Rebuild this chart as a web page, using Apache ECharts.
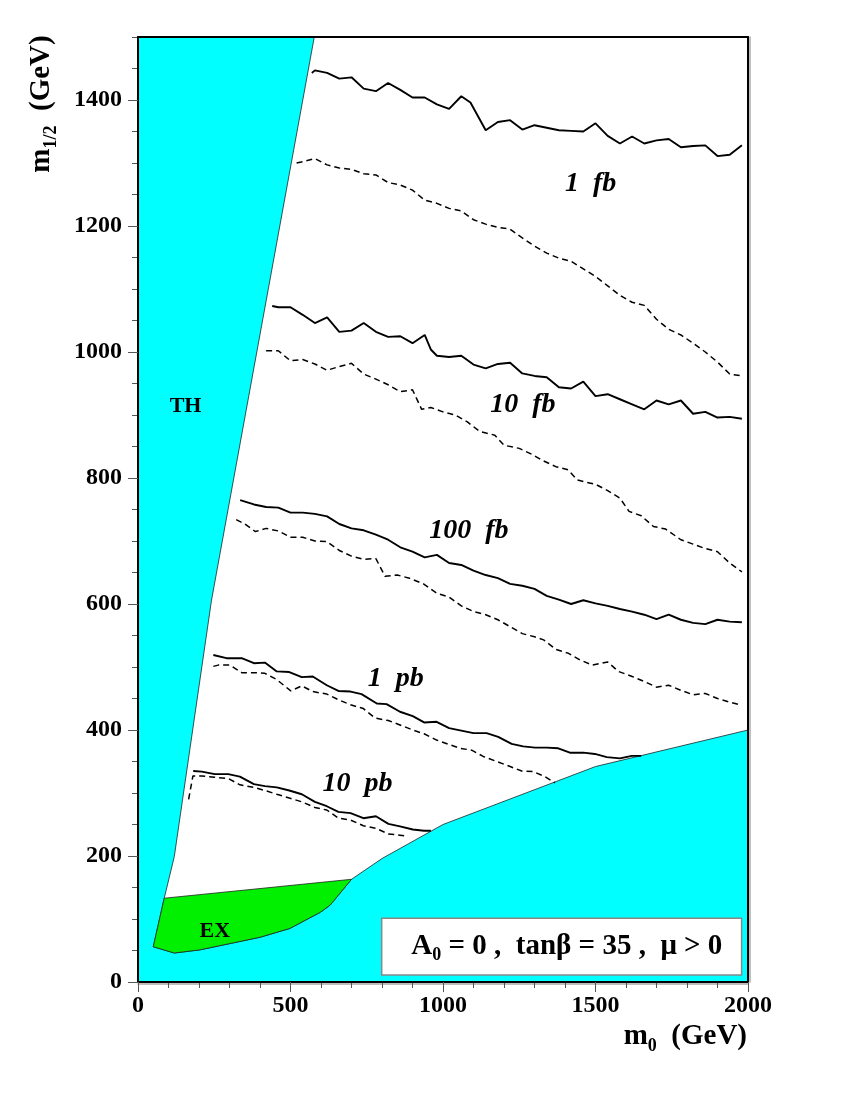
<!DOCTYPE html>
<html><head><meta charset="utf-8">
<script src="https://cdn.jsdelivr.net/npm/echarts@6/dist/echarts.min.js"></script>
<style>html,body{margin:0;padding:0;background:#fff}#c{width:850px;height:1100px}</style>
</head><body><div id="c"></div>
<script>
const F = "'Liberation Serif','Times New Roman',serif";
const xTickValues = [0, 500, 1000, 1500, 2000];
const yTickValues = [0, 200, 400, 600, 800, 1000, 1200, 1400];

// excluded regions (m0, m1/2)
const cyanRegion = [[0,0],[0,1500],[578,1500],[241,606],[119,199],[86,133],[50,56],[119,46],[203,51],[400,71],[498,85],[599,111],[630,122],[700,163],[800,196],[1000,250],[1500,342],[2000,400],[2000,0]];
const exRegion = [[50,56],[86,133],[700,163],[630,122],[599,111],[498,85],[400,71],[203,51],[119,46]];
const infoBox = [[799,11],[1979,101]];

// contours (solid / dashed)
const fb1Solid = [[570,1443],[580,1447],[620,1443],[660,1434],[700,1436],[740,1418],[780,1414],[820,1427],[860,1416],[900,1404],[940,1404],[980,1393],[1020,1386],[1060,1406],[1090,1396],[1140,1352],[1180,1365],[1220,1368],[1260,1353],[1300,1360],[1340,1356],[1380,1352],[1420,1351],[1460,1350],[1500,1363],[1540,1343],[1580,1331],[1620,1342],[1660,1331],[1700,1336],[1740,1338],[1780,1325],[1820,1327],[1860,1328],[1900,1311],[1940,1313],[1980,1328]];
const fb1Dash = [[520,1300],[540,1302],[580,1307],[620,1297],[660,1292],[700,1290],[740,1283],[780,1281],[820,1269],[860,1265],[900,1257],[940,1241],[980,1236],[1020,1228],[1060,1224],[1100,1210],[1140,1203],[1180,1198],[1220,1195],[1260,1181],[1300,1168],[1340,1157],[1380,1149],[1420,1144],[1460,1132],[1500,1120],[1540,1105],[1580,1090],[1620,1079],[1660,1074],[1700,1052],[1740,1036],[1780,1027],[1820,1014],[1860,1000],[1900,984],[1940,965],[1980,962]];
const fb10Solid = [[440,1073],[460,1071],[500,1071],[540,1059],[580,1046],[620,1055],[660,1032],[700,1034],[740,1046],[780,1032],[820,1024],[860,1025],[900,1014],[940,1027],[960,1004],[980,994],[1020,992],[1060,994],[1100,980],[1140,974],[1180,981],[1220,983],[1260,966],[1300,962],[1340,960],[1380,944],[1420,942],[1460,953],[1500,930],[1540,933],[1580,925],[1620,917],[1660,909],[1700,923],[1740,917],[1780,923],[1820,902],[1860,905],[1900,896],[1940,897],[1980,894]];
const fb10Dash = [[420,1002],[460,1002],[500,986],[540,988],[580,981],[620,971],[660,977],[700,982],[740,965],[780,957],[820,948],[860,937],[900,940],[930,909],[960,912],[1000,905],[1040,900],[1080,889],[1120,874],[1170,868],[1200,852],[1250,847],[1290,838],[1330,827],[1370,818],[1410,813],[1440,797],[1470,793],[1500,790],[1540,780],[1580,768],[1610,747],[1650,740],[1690,723],[1730,719],[1780,702],[1820,695],[1860,688],[1900,683],[1940,665],[1980,651]];
const fb100Solid = [[335,765],[380,758],[420,754],[460,753],[500,745],[540,745],[580,743],[620,739],[660,727],[700,720],[740,717],[780,710],[820,702],[860,690],[900,683],[940,674],[980,678],[1020,665],[1060,662],[1100,653],[1140,646],[1180,641],[1220,632],[1260,629],[1300,624],[1340,613],[1380,607],[1420,600],[1460,606],[1500,601],[1540,597],[1580,592],[1620,588],[1660,583],[1700,576],[1740,583],[1780,575],[1820,570],[1860,568],[1900,575],[1940,572],[1980,571]];
const fb100Dash = [[322,734],[350,727],[385,715],[420,720],[460,716],[500,706],[540,706],[580,700],[620,699],[660,685],[700,676],[740,671],[780,672],[810,644],[850,646],[890,641],[936,632],[980,617],[1020,611],[1060,597],[1100,588],[1140,583],[1180,575],[1220,564],[1260,553],[1300,548],[1330,543],[1370,528],[1410,522],[1450,511],[1490,503],[1540,508],[1575,493],[1620,485],[1660,477],[1700,468],[1740,471],[1780,463],[1820,456],[1860,458],[1900,450],[1940,444],[1975,440]];
const pb1Solid = [[247,519],[290,514],[340,514],[380,506],[416,507],[455,493],[496,492],[537,484],[573,485],[619,471],[657,462],[697,461],[733,457],[783,442],[815,441],[859,429],[901,422],[938,412],[979,413],[1020,403],[1060,399],[1100,395],[1143,395],[1181,389],[1225,378],[1263,374],[1302,372],[1340,372],[1378,371],[1416,364],[1460,364],[1498,362],[1537,357],[1580,355],[1619,359],[1650,359]];
const pb1Dash = [[247,501],[263,503],[302,503],[340,491],[380,491],[416,490],[455,480],[501,462],[537,470],[573,461],[619,457],[657,448],[697,440],[739,434],[777,419],[821,415],[859,408],[901,400],[938,394],[979,384],[1020,377],[1056,371],[1094,368],[1132,358],[1176,350],[1220,342],[1258,335],[1296,334],[1334,326],[1367,316]];
const pb10Solid = [[181,335],[209,334],[252,330],[296,330],[334,326],[380,314],[416,311],[455,309],[496,304],[537,298],[580,286],[619,279],[657,270],[697,268],[739,260],[780,263],[821,251],[859,247],[901,242],[938,240],[960,240]];
const pb10Dash = [[166,290],[180,327],[209,327],[252,325],[296,323],[334,313],[380,309],[416,304],[455,298],[496,292],[537,286],[580,277],[619,273],[657,260],[697,257],[739,248],[780,244],[821,235],[859,233],[875,232]];

const curveLabels = [['1  fb',1484,1267],['10  fb',1262,916],['100  fb',1085,716],['1  pb',845,481],['10  pb',720,314]];
const regionLabels = [['TH',156,913],['EX',252,81]];
const boxLabel = ['{b|A}{s|0}{b| = 0 ,  tanβ = 35 ,  μ > 0}', 1406, 56];

const chart = echarts.init(document.getElementById('c'), null, {renderer:'canvas'});

function polygonSeries(verts, fill, z) {
  return {
    type:'custom', coordinateSystem:'cartesian2d', data:verts, z:z, silent:true,
    encode:{x:0,y:1},
    renderItem:function(params, api){
      if (params.dataIndex !== 0) return null;
      return {type:'polygon', shape:{points:verts.map(v=>api.coord(v))},
        style:{fill:fill, stroke:'#222', lineWidth:0.8}};
    }
  };
}
function curve(data, dashed) {
  return {type:'line', data:data, showSymbol:false, symbol:'none', z:4, silent:true,
    lineStyle:{color:'#000', width: dashed ? 1.5 : 1.9, type: dashed ? [6,4] : 'solid'}};
}
const axisFont = {fontFamily:F, fontWeight:'bold', fontSize:24, color:'#000'};
const frame = {show:true, onZero:false, lineStyle:{color:'#000', width:2}};
const zrRich = {
  m:{fontFamily:F, fontWeight:'bold', fontSize:29, lineHeight:36, verticalAlign:'middle', fill:'#000'},
  s:{fontFamily:F, fontWeight:'bold', fontSize:18, lineHeight:36, verticalAlign:'bottom', fill:'#000'}
};

const option = {
  animation:false,
  backgroundColor:'#fff',
  grid:{left:138, top:37, width:610, height:945},
  xAxis:[
    {type:'value', min:0, max:2000, interval:500, position:'bottom', z:10,
     axisLine:frame, axisTick:{length:10, lineStyle:{color:'#555'}},
     axisLabel:Object.assign({margin:12, formatter:v=>xTickValues.includes(v)?String(v):''}, axisFont),
     splitLine:{show:false}},
    {type:'value', min:0, max:2000, interval:100, position:'bottom', z:9,
     axisLine:{show:false,onZero:false}, axisTick:{length:6, lineStyle:{color:'#555'}},
     axisLabel:{show:false}, splitLine:{show:false}},
    {type:'value', min:0, max:2000, position:'top', z:10,
     axisLine:frame, axisTick:{show:false}, axisLabel:{show:false}, splitLine:{show:false}},
    {type:'value', min:0, max:2000, position:'bottom', offset:2, z:9,
     axisLine:{show:true,onZero:false,lineStyle:{color:'#aaa',width:1.5}}, axisTick:{show:false}, axisLabel:{show:false}, splitLine:{show:false}}
  ],
  yAxis:[
    {type:'value', min:0, max:1500, interval:200, position:'left', z:10,
     axisLine:frame, axisTick:{length:10, lineStyle:{color:'#555'}},
     axisLabel:Object.assign({margin:16, showMaxLabel:false, formatter:v=>yTickValues.includes(v)?String(v):''}, axisFont),
     splitLine:{show:false}},
    {type:'value', min:0, max:1500, interval:50, position:'left', z:9,
     axisLine:{show:false,onZero:false}, axisTick:{length:6, lineStyle:{color:'#555'}},
     axisLabel:{show:false}, splitLine:{show:false}},
    {type:'value', min:0, max:1500, position:'right', z:10,
     axisLine:frame, axisTick:{show:false}, axisLabel:{show:false}, splitLine:{show:false}},
    {type:'value', min:0, max:1500, position:'right', offset:2, z:9,
     axisLine:{show:true,onZero:false,lineStyle:{color:'#aaa',width:1.5}}, axisTick:{show:false}, axisLabel:{show:false}, splitLine:{show:false}}
  ],
  graphic:[
    {type:'text', x:747, y:1037, z:20, style:{
      text:'{m|m}{s|0}{m|  (GeV)}', align:'right', verticalAlign:'middle', rich:zrRich}},
    {type:'text', x:42, y:104, rotation:Math.PI/2, z:20, style:{
      text:'{m|m}{s|1/2}{m|  (GeV)}', align:'center', verticalAlign:'middle', rich:zrRich}}
  ],
  series:[
    polygonSeries(cyanRegion, '#00ffff', 1),
    polygonSeries(exRegion, '#00f000', 2),
    {type:'custom', coordinateSystem:'cartesian2d', data:infoBox, z:3, silent:true, encode:{x:0,y:1},
     renderItem:function(params, api){
       if (params.dataIndex !== 0) return null;
       const a = api.coord(infoBox[0]), b = api.coord(infoBox[1]);
       return {type:'rect', shape:{x:a[0], y:b[1], width:b[0]-a[0], height:a[1]-b[1]},
         style:{fill:'#fff', stroke:'#888', lineWidth:1.5}};
     }},
    curve(fb1Solid,false), curve(fb1Dash,true),
    curve(fb10Solid,false), curve(fb10Dash,true),
    curve(fb100Solid,false), curve(fb100Dash,true),
    curve(pb1Solid,false), curve(pb1Dash,true),
    curve(pb10Solid,false), curve(pb10Dash,true),
    {type:'scatter', symbolSize:1, z:6, silent:true, itemStyle:{color:'rgba(0,0,0,0)'},
     data:curveLabels.map(d=>({value:[d[1],d[2]], label:{formatter:d[0]}})),
     label:{show:true, position:'inside', fontFamily:F, fontStyle:'italic', fontWeight:'bold', fontSize:28, color:'#000', textBorderWidth:0, opacity:1}},
    {type:'scatter', symbolSize:1, z:6, silent:true, itemStyle:{color:'rgba(0,0,0,0)'},
     data:regionLabels.map(d=>({value:[d[1],d[2]], label:{formatter:d[0]}})),
     label:{show:true, position:'inside', fontFamily:F, fontWeight:'bold', fontSize:22, color:'#000', textBorderWidth:0, opacity:1}},
    {type:'scatter', symbolSize:1, z:6, silent:true, itemStyle:{color:'rgba(0,0,0,0)'},
     data:[{value:[boxLabel[1], boxLabel[2]], label:{formatter:boxLabel[0]}}],
     label:{show:true, position:'inside', textBorderWidth:0, opacity:1,
       rich:{b:{fontFamily:F, fontWeight:'bold', fontSize:29, lineHeight:36, verticalAlign:'middle', color:'#000'},
             s:{fontFamily:F, fontWeight:'bold', fontSize:18, lineHeight:36, verticalAlign:'bottom', color:'#000'}}}}
  ]
};
chart.setOption(option);
</script>
</body></html>
